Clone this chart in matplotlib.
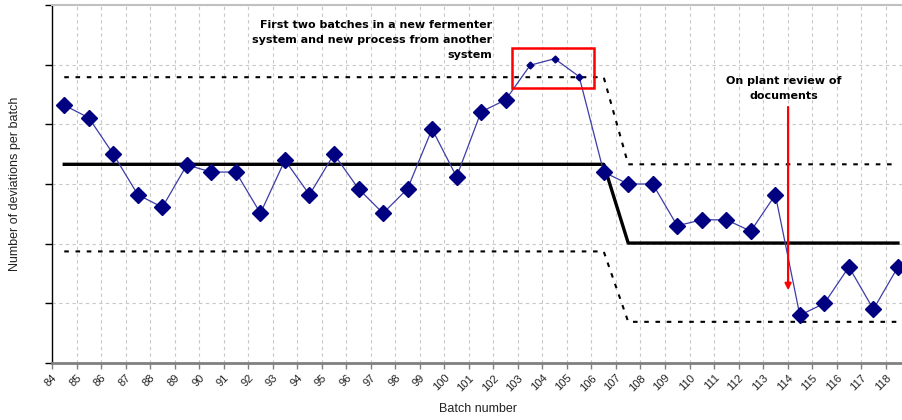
import matplotlib
matplotlib.use("Agg")
import matplotlib.pyplot as plt
import numpy as np

batches = list(range(84, 119))
deviations = [4.32, 4.11, 3.50, 2.82, 2.61, 3.32, 3.20, 3.20, 2.51, 3.40,
              2.82, 3.50, 2.92, 2.51, 2.92, 3.92, 3.12, 4.21, 4.41, 4.99,
              5.10, 4.80, 3.20, 3.00, 3.00, 2.30, 2.40, 2.40, 2.21, 2.82,
              0.80, 1.00, 1.61, 0.90, 1.61]
highlight_batches = [103, 104, 105]

phase1_end = 106
center = [3.33, 2.01]
upper = [4.79, 3.33]
lower = [1.87, 0.69]

tick_labels = [str(b) for b in range(84, 119)]

fig = plt.figure(figsize=(9.03, 4.2), dpi=100)
W, H = 903, 420
ax = fig.add_axes([52 / W, (H - 363) / H, (903 - 52) / W, (363 - 5) / H])

x = np.array(batches) + 0.5
y = np.array(deviations)

# control lines
x_ctrl = np.array([84, phase1_end, phase1_end + 1, 118]) + 0.5
ax.plot(x_ctrl, [center[0], center[0], center[1], center[1]], color="black", lw=2.4, zorder=3)
ax.plot(x_ctrl, [upper[0], upper[0], upper[1], upper[1]], color="black", lw=1.5,
        ls=(0, (2.2, 3.2)), zorder=3)
ax.plot(x_ctrl, [lower[0], lower[0], lower[1], lower[1]], color="black", lw=1.5,
        ls=(0, (2.2, 3.2)), zorder=3)

# data
ax.plot(x, y, color="#3c3ca8", lw=0.9, zorder=4)
big = np.array([b not in highlight_batches for b in batches])
ax.plot(x[big], y[big], ls="none", marker="D", ms=7.8, color="#000080", zorder=5)
ax.plot(x[~big], y[~big], ls="none", marker="D", ms=3.5, color="#000080", zorder=5)

# red box
ax.add_patch(plt.Rectangle((102.76, 4.61), 106.1 - 102.76, 5.28 - 4.61, fill=False,
                           ec="#ff0000", lw=1.8, zorder=6))
# red arrow
ax.annotate("", xy=(114.02, 1.22), xytext=(114.02, 4.29),
            arrowprops=dict(arrowstyle="-|>", color="#ff0000", lw=1.6,
                            mutation_scale=9, shrinkA=0, shrinkB=0), zorder=6)

ax.text(101.94, 5.41, "First two batches in a new fermenter\nsystem and new process from another\nsystem",
        ha="right", va="center", fontsize=8, fontweight="bold", family="DejaVu Sans",
        linespacing=1.65)
ax.text(113.85, 4.60, "On plant review of\ndocuments", ha="center", va="center",
        fontsize=8, fontweight="bold", family="DejaVu Sans", linespacing=1.65)

ax.set_xlim(84, 84 + (903 - 52) / 24.52)
ax.set_ylim(0, 6)
ax.set_xticks(range(84, 119))
ax.set_xticklabels(tick_labels, rotation=45, ha="right", va="top",
                   rotation_mode="anchor", fontsize=8, family="Liberation Sans", color="#222222")
ax.set_yticks(range(0, 7))
ax.set_yticklabels([])
ax.tick_params(axis="x", length=4, width=1, color="#808080", pad=3)
ax.tick_params(axis="y", length=5, width=1, color="black")

ax.grid(True, color="#c8c8c8", ls=(0, (3, 3)), lw=0.8)
ax.set_axisbelow(True)

ax.spines["right"].set_visible(False)
ax.spines["top"].set_color("#c0c0c0")
ax.spines["top"].set_linewidth(1.5)
ax.spines["bottom"].set_color("#808080")
ax.spines["bottom"].set_linewidth(2)
ax.spines["left"].set_color("black")
ax.spines["left"].set_linewidth(1)

ax.set_ylabel("Number of deviations per batch", fontsize=9, family="Liberation Sans",
              color="#222222")
ax.yaxis.set_label_coords(-31 / 851, 0.5)
ax.set_xlabel("Batch number", fontsize=9, family="Liberation Sans", color="#222222")
ax.xaxis.set_label_coords((478 - 52) / 851, -(403 - 363) / 358)

fig.savefig("out.png", dpi=100)
